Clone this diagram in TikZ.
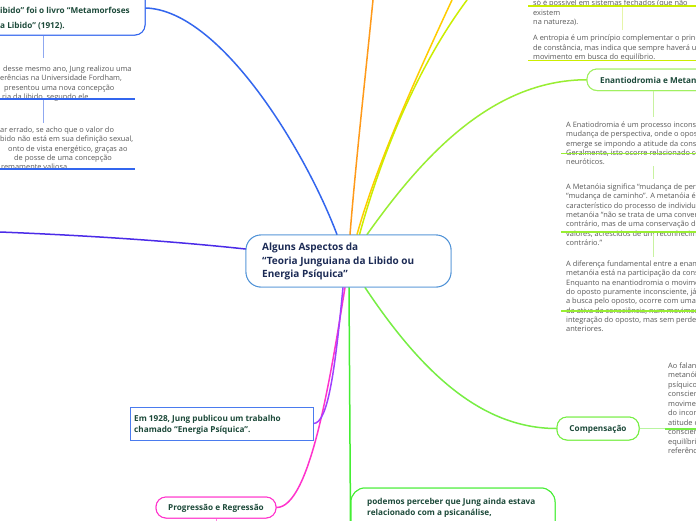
\documentclass[tikz,border=0pt]{standalone}
\usepackage{fontspec}
\setmainfont{Open Sans}
\usetikzlibrary{calc}
\definecolor{cblue}{HTML}{4A8FD6}
\definecolor{tlblue}{HTML}{3366EE}
\definecolor{tlsub}{HTML}{8FA8F0}
\definecolor{indigo}{HTML}{4B2BE8}
\definecolor{orangeL}{HTML}{FF9A1A}
\definecolor{yellowL}{HTML}{FFCC00}
\definecolor{limeY}{HTML}{CCEE00}
\definecolor{limeYsub}{HTML}{E6F5A8}
\definecolor{limeG}{HTML}{99EE33}
\definecolor{enborder}{HTML}{A0F060}
\definecolor{limeGsub}{HTML}{C8F2A0}
\definecolor{compG}{HTML}{77EE44}
\definecolor{compSub}{HTML}{B8F5A0}
\definecolor{vgreen}{HTML}{44EE33}
\definecolor{magentaL}{HTML}{FF33CC}
\definecolor{purpleL}{HTML}{A040FF}
\definecolor{boxblue}{HTML}{4A7BEE}
\definecolor{dgreen}{HTML}{1D4A3A}
\definecolor{navy}{HTML}{1C2B55}
\definecolor{gray5}{HTML}{595959}
\newcommand\mmlines[4]{%
  \foreach \mmx/\mmtxt [count=\mmi from 0] in {#4}
    \node[gtext] (#1-\mmi) at ({\mmx},{#3+\mmi*#2}) {\mmtxt};}
\begin{document}
\begin{tikzpicture}[x=1pt,y=-1pt,
  gtext/.style={font=\fontsize{7.4}{9.3}\selectfont, text=gray5, inner sep=0, anchor=base west},
  btext/.style={font=\fontsize{8.2}{11}\selectfont\bfseries, text=dgreen, inner sep=0, anchor=base west},
  ctext/.style={font=\fontsize{10}{13.5}\selectfont\bfseries, text=navy, inner sep=0, anchor=base west},
  branch/.style={line width=1.5pt, line cap=round},
  subline/.style={line width=0.8pt},
  uline/.style={line width=1.5pt},
  pill/.style={line width=1pt, rounded corners=10pt, fill=white, inner sep=0},
]
\useasboundingbox (0,0) rectangle (696,520);
\clip (0,0) rectangle (696,520);
\fill[white] (0,0) rectangle (696,520);

% ---------- nodes (placement) ----------
\node[draw=cblue, line width=0.9pt, rounded corners=15pt, minimum width=205pt, minimum height=52pt, inner sep=0] (c) at (348.5,261) {};
\node[draw=tlblue, pill, minimum width=200pt, minimum height=54pt] (tl) at (45,8) {};
\node[draw=enborder, pill, minimum width=150pt, minimum height=21.5pt] (en) at (662,79.75) {};
\node[draw=compG, pill, minimum width=82pt, minimum height=23pt] (cp) at (598,428.5) {};
\node[draw=magentaL, pill, minimum width=120pt, minimum height=21pt] (pr) at (216,507.5) {};
\node[draw=boxblue, line width=1pt, fill=white, minimum width=183pt, minimum height=33pt, inner sep=0] (bx) at (221.5,423.5) {};
\node[draw=vgreen, line width=1pt, rounded corners=14pt, fill=white, minimum width=204pt, minimum height=70pt, inner sep=0] (pd) at (453,523) {};

\coordinate (lw) at (0,232);
\coordinate (o1) at (373,0);
\coordinate (y1) at (452,0);
\coordinate (ly1) at (467,0);
\coordinate (prd) at (216,525);

% ---------- connectors ----------
\draw[branch, tlblue] (tl.east) .. controls (220,10) and (305,150) .. ($(c.north)+(-11.5,0)$);
\draw[branch, indigo] (lw) .. controls (100,236) and (180,242) .. ($(c.west)+(0,-12)$);
\draw[branch, orangeL] ($(c.north)+(1.5,0)$) .. controls (356,160) and (365,80) .. (o1);
\draw[branch, yellowL] ($(c.north)+(8.5,0)$) .. controls (375,170) and (410,90) .. (y1);
\draw[branch, limeY] ($(c.north)+(11,0)$) .. controls (380,160) and (415,70) .. (ly1);
\draw[branch, limeG] ($(c.north)+(18.5,0)$) .. controls (420,160) and (490,80) .. (en.west);
\draw[branch, compG] ($(c.south)+(16.5,0)$) .. controls (420,370) and (480,428.5) .. (cp.west);
\draw[branch, vgreen] ($(c.south)+(0.5,0)$) -- (pd.west);
\draw[branch, magentaL] ($(c.south)+(-3.5,0)$) .. controls (330,380) and (310,507.5) .. (pr.east);
\draw[branch, purpleL] ($(c.south)+(-5.5,0)$) .. controls (335,370) and (328,423.5) .. (bx.east);
\draw[subline, magentaL!60] (pr.south) -- (prd);

% redraw node borders over connectors
\node[draw=cblue, line width=0.9pt, rounded corners=15pt, minimum width=205pt, minimum height=52pt, fill=white, inner sep=0] (c2) at (c) {};
\node[draw=tlblue, pill, minimum width=200pt, minimum height=54pt] (tl2) at (tl) {};
\node[draw=enborder, pill, minimum width=150pt, minimum height=21.5pt] (en2) at (en) {};
\node[draw=compG, pill, minimum width=82pt, minimum height=23pt] (cp2) at (cp) {};
\node[draw=magentaL, pill, minimum width=120pt, minimum height=21pt] (pr2) at (pr) {};
\node[draw=boxblue, line width=1pt, fill=white, minimum width=183pt, minimum height=33pt, inner sep=0] (bx2) at (bx) {};
\node[draw=vgreen, line width=1pt, rounded corners=14pt, fill=white, minimum width=204pt, minimum height=70pt, inner sep=0] (pd2) at (pd) {};

% ---------- node texts ----------
\node[ctext] (ct1) at (262,250.5) {Alguns Aspectos da};
\node[ctext] (ct2) at (262,264) {“Teoria Junguiana da Libido ou};
\node[ctext] (ct3) at (262,277.5) {Energia Psíquica”};

\node[btext] (tlt1) at (0,13) {ibido” foi o livro “Metamorfoses};
\node[btext] (tlt2) at (0,28) {a Libido” (1912).};

\node[btext] (ent) at (600,83) {Enantiodromia e Metan};
\node[btext, anchor=base] (cpt) at (598,431.5) {Compensação};
\node[btext, anchor=base] (prt) at (216,510.5) {Progressão e Regressão};
\node[btext] (bxt1) at (134,421) {Em 1928, Jung publicou um trabalho};
\node[btext] (bxt2) at (134,432.5) {chamado “Energia Psíquica”.};
\node[btext] (pdt1) at (367,504) {podemos perceber que Jung ainda estava};
\node[btext] (pdt2) at (367,515) {relacionado com a psicanálise,};

% ---------- left sub texts ----------
\draw[subline, tlsub] (tl.south -| 43,0) -- (43,58);
\mmlines{tla}{9.3}{71.5}{3/{desse mesmo ano, Jung realizou uma}, 0/{erências na Universidade Fordham,}, 4/{presentou uma nova concepção}, 2/{ria da libido, segundo ele}}
\draw[uline, tlblue] (0,99) -- (135,99);
\draw[subline, tlsub] (43,100) -- (43,123);
\mmlines{tlb}{9.3}{132.5}{0/{ar errado, se acho que o valor do}, 0/{bido não está em sua definição sexual,}, 8/{onto de vista energético, graças ao}, 14/{de posse de uma concepção}, 1/{remamente valiosa.}}
\draw[uline, tlblue] (0,169) -- (135,169);

% ---------- top right texts ----------
\mmlines{tra}{9.5}{5.5}{533/{só é possível em sistemas fechados (que não}, 533/{existem}, 533/{na natureza).}}
\draw[uline, limeY] (528,6) -- (696,6);
\draw[subline, limeYsub] (622,7) -- (622,30);
\mmlines{trb}{9.5}{40.5}{533/{A entropia é um princípio complementar o princ}, 533/{de constância, mas indica que sempre haverá u}, 533/{movimento em busca do equilíbrio.}}
\draw[uline, limeY] (528,60.5) -- (696,60.5);

% ---------- enantiodromia texts ----------
\draw[subline, limeGsub] (en.south -| 653,0) -- (653,117);
\mmlines{ena}{9.3}{127.5}{566/{A Enatiodromia é um processo inconsc}, 566/{mudança de perspectiva, onde o opost}, 566/{emerge se impondo a atitude da consc}, 566/{Geralmente, isto ocorre relacionado co}, 566/{neuróticos.}}
\draw[uline, limeG] (561,153.5) -- (696,153.5);
\draw[subline, limeGsub] (653,166) -- (653,179);
\mmlines{enb}{9.3}{189.5}{566/{A Metanóia significa “mudança de pere}, 566/{“mudança de caminho”. A metanóia é u}, 566/{característico do processo de individua}, 566/{metanóia “não se trata de uma convers}, 566/{contrário, mas de uma conservação do}, 566/{valores, acrescidos de um reconhecime}, 566/{contrário.”}}
\draw[uline, limeG] (561,232) -- (696,232);
\draw[subline, limeGsub] (653,234) -- (653,257);
\mmlines{enc}{9.3}{266.5}{566/{A diferença fundamental entre a enant}, 566/{metanóia está na participação da cons}, 566/{Enquanto na enantiodromia o movimen}, 566/{do oposto puramente inconsciente, já}, 566/{a busca pelo oposto, ocorre com uma p}, 566/{da ativa da consciência, num movimen}, 566/{integração do oposto, mas sem perder}, 566/{anteriores.}}
\draw[uline, limeG] (561,311) -- (696,311);

% ---------- compensação texts ----------
\draw[subline, compSub, line width=1.2pt] (cp.east) -- (665,428.5);
\mmlines{cpa}{9.45}{368.5}{668/{Ao falan}, 668/{metanói}, 668/{psíquico}, 668/{conscien}, 668/{movimer}, 668/{do incon}, 668/{atitude c}, 668/{consciên}, 668/{equilíbri}, 668/{referênc}}
\draw[uline, compG, line width=2pt] (665,428.5) -- (696,428.5);
\end{tikzpicture}
\end{document}
